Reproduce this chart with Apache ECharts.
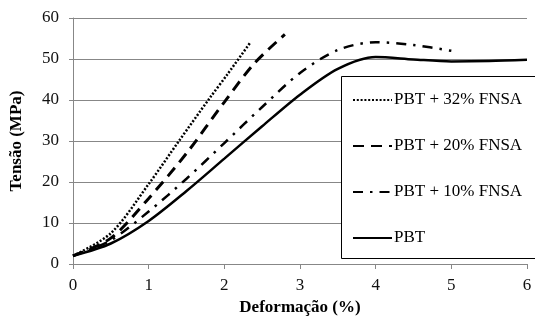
<!DOCTYPE html>
<html>
<head>
<meta charset="utf-8">
<script src="https://cdn.jsdelivr.net/npm/echarts@6/dist/echarts.min.js"></script>
<style>
    html, body { margin: 0; padding: 0; background: #fff; }
    #chart { width: 535px; height: 321px; }
</style>
</head>
<body>
<div id="chart"></div>
<script>
// 数据
const seriesNames = ['PBT + 32% FNSA', 'PBT + 20% FNSA', 'PBT + 10% FNSA', 'PBT'];
const pbt32 = [[0, 2], [0.5, 7.5], [1, 19.5], [1.4, 30], [1.8, 40.3], [2.05, 46.5], [2.35, 54.2]];
const pbt20 = [[0, 2], [0.5, 6.3], [1, 16], [1.5, 27], [2, 39.5], [2.4, 49], [2.8, 56]];
const pbt10 = [[0, 2], [0.5, 5.8], [1, 12.8], [1.5, 20.8], [2, 29.5], [2.5, 38.3], [3, 46.6], [3.5, 52.2], [4, 54.1], [4.5, 53.4], [5, 52]];
const pbt = [[0, 2], [0.5, 5], [1, 10.5], [1.5, 17.8], [2, 25.7], [2.5, 33.6], [3, 41.3], [3.5, 47.6], [4, 50.5], [4.5, 49.9], [5, 49.4], [5.5, 49.5], [6, 49.8]];
const xTicks = [0, 6, 1];   // min, max, interval
const yTicks = [0, 60, 10];

const font = '"Liberation Serif", "Times New Roman", serif';
const grey = '#878787';

function lineSeries(name, data, type, width) {
    return {
        name: name,
        type: 'line',
        data: data,
        smooth: 0.3,
        symbol: 'none',
        itemStyle: { color: '#000' },
        lineStyle: { color: '#000', width: width, type: type }
    };
}

// 初始化图表
function initChart() {
    const myChart = echarts.init(document.getElementById('chart'), null, { renderer: 'canvas' });
    const option = {
        backgroundColor: '#fff',
        animation: false,
        grid: { left: 71, right: 8, top: 18, bottom: 57 },
        xAxis: {
            type: 'value',
            min: xTicks[0], max: xTicks[1], interval: xTicks[2],
            name: 'Deformação (%)',
            nameLocation: 'middle',
            nameGap: 34,
            nameTextStyle: { fontFamily: font, fontWeight: 'bold', fontSize: 17, color: '#000' },
            axisLine: { lineStyle: { color: grey } },
            axisTick: { show: true, length: 5, lineStyle: { color: grey } },
            axisLabel: { fontFamily: font, fontSize: 17, color: '#111', margin: 13 },
            splitLine: { show: false }
        },
        yAxis: {
            type: 'value',
            min: yTicks[0], max: yTicks[1], interval: yTicks[2],
            name: 'Tensão (MPa)',
            nameLocation: 'middle',
            nameGap: 48,
            nameTextStyle: { fontFamily: font, fontWeight: 'bold', fontSize: 17, color: '#000' },
            axisLine: { show: true, lineStyle: { color: grey } },
            axisTick: { show: true, length: 4, lineStyle: { color: grey } },
            axisLabel: { fontFamily: font, fontSize: 17, color: '#111', margin: 14 },
            splitLine: { show: true, lineStyle: { color: grey, width: 1 } }
        },
        graphic: [{
            type: 'rect',
            left: 341, top: 76, z: 10,
            shape: { width: 200, height: 182 },
            style: { fill: '#fff', stroke: '#000', lineWidth: 1 }
        }],
        legend: {
            data: seriesNames,
            orient: 'vertical',
            left: 352, top: 91,
            padding: 0,
            itemWidth: 39, itemHeight: 18,
            itemGap: 28,
            z: 20,
            itemStyle: { opacity: 0 },
            textStyle: { fontFamily: font, fontSize: 17, color: '#000', lineHeight: 18, padding: [0, 0, 0, -3] }
        },
        series: [
            lineSeries(seriesNames[0], pbt32, [2, 1.8], 2.5),
            lineSeries(seriesNames[1], pbt20, [11, 7], 3),
            lineSeries(seriesNames[2], pbt10, [10, 7, 2.5, 7], 2.5),
            lineSeries(seriesNames[3], pbt, 'solid', 2.5)
        ]
    };
    myChart.setOption(option);
}

document.addEventListener('DOMContentLoaded', initChart);
</script>
</body>
</html>
